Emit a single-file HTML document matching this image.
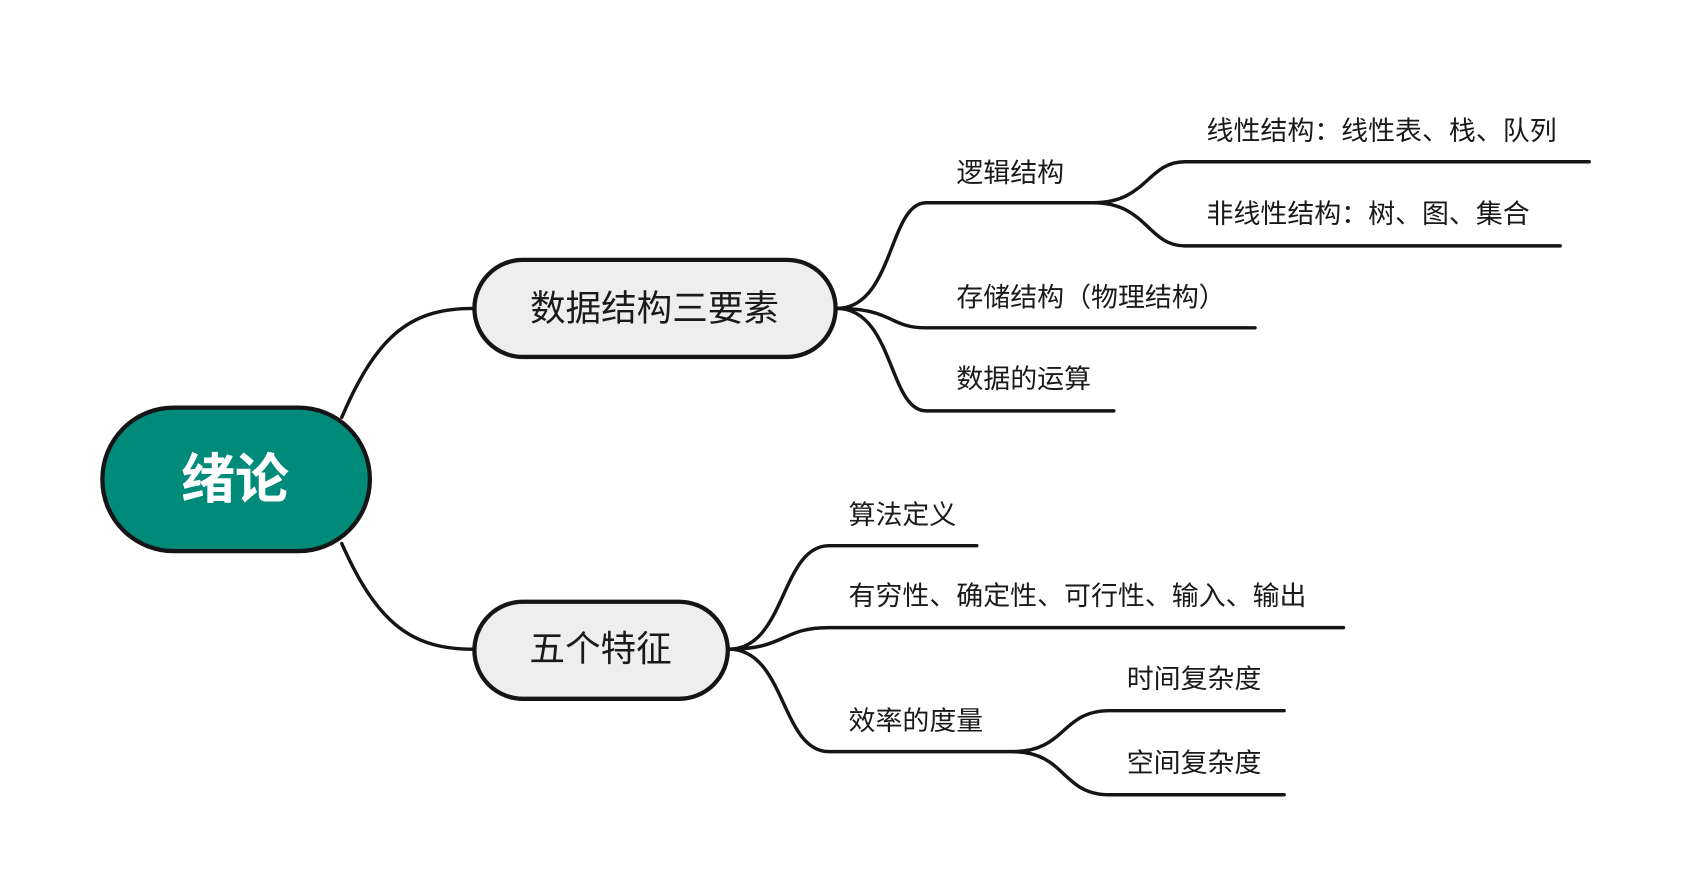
<!DOCTYPE html>
<html><head><meta charset="utf-8"><style>
html,body{margin:0;padding:0;background:#fff;}
svg{display:block;}
text{font-family:"Liberation Sans","Noto Sans CJK SC",sans-serif;fill:#1a1a1a;}
</style></head><body>
<svg width="1682" height="894" viewBox="1 1 1560 829" preserveAspectRatio="none" xmlns="http://www.w3.org/2000/svg">
<g fill="none" stroke="#151515" stroke-width="3.2" stroke-linecap="round">
<path d="M318,388 C352,308 385,287 440,287"/>
<path d="M318,505 C352,582 385,603 440,603"/>
<path d="M777,287 C830,287 825,189 860,189 L1015,189"/>
<path d="M777,287 C830,287 825,305 860,305 L1165,305"/>
<path d="M777,287 C830,287 825,382 860,382 L1034,382"/>
<path d="M1015,189 C1065,189 1065,151 1100,151 L1475,151"/>
<path d="M1015,189 C1065,189 1065,229 1100,229 L1448,229"/>
<path d="M677,603 C730,603 725,507 770,507 L907,507"/>
<path d="M677,603 C730,603 725,583 770,583 L1247,583"/>
<path d="M677,603 C730,603 725,698 770,698 L940,698"/>
<path d="M940,698 C990,698 985,660 1030,660 L1192,660"/>
<path d="M940,698 C990,698 985,738 1030,738 L1192,738"/>
</g>
<rect x="96" y="379" width="248" height="133" rx="66" fill="#008a7a" stroke="#151515" stroke-width="4"/>
<text x="219" y="463" font-size="50" font-weight="bold" text-anchor="middle" style="fill:#fff">绪论</text>
<rect x="441" y="242" width="335" height="90" rx="45" fill="#eeeeee" stroke="#151515" stroke-width="4"/>
<text x="608" y="298" font-size="33" text-anchor="middle">数据结构三要素</text>
<rect x="441" y="559" width="235" height="90" rx="45" fill="#eeeeee" stroke="#151515" stroke-width="4"/>
<text x="558" y="614" font-size="33" text-anchor="middle">五个特征</text>
<g font-size="25">
<text x="888" y="170">逻辑结构</text>
<text x="888" y="285">存储结构（物理结构）</text>
<text x="888" y="361">数据的运算</text>
<text x="1120" y="131">线性结构：线性表、栈、队列</text>
<text x="1120" y="208">非线性结构：树、图、集合</text>
<text x="788" y="487">算法定义</text>
<text x="788" y="562">有穷性、确定性、可行性、输入、输出</text>
<text x="788" y="678">效率的度量</text>
<text x="1046" y="639">时间复杂度</text>
<text x="1046" y="717">空间复杂度</text>
</g>
</svg>
</body></html>
